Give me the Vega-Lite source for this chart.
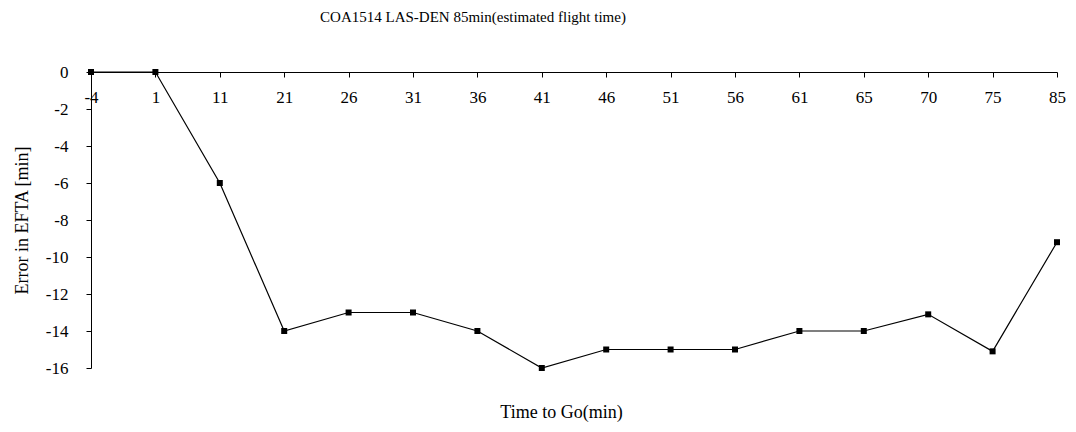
{
  "$schema": "https://vega.github.io/schema/vega-lite/v6.json",
  "width": 966,
  "height": 296,
  "autosize": {"type": "none"},
  "padding": {"left": 91, "top": 72, "right": 19, "bottom": 64},
  "background": "white",
  "title": {
    "text": "COA1514 LAS-DEN 85min(estimated flight time)",
    "font": "Liberation Serif",
    "fontSize": 15,
    "fontWeight": "normal",
    "color": "black",
    "anchor": "middle",
    "frame": "group",
    "dx": -101,
    "offset": 38
  },
  "config": {
    "view": {"stroke": null},
    "axis": {
      "labelFont": "Liberation Serif",
      "titleFont": "Liberation Serif",
      "labelColor": "black",
      "titleColor": "black",
      "domainColor": "black",
      "tickColor": "black",
      "grid": false
    }
  },
  "data": {
    "values": [
      {"t": "-4", "err": 0},
      {"t": "1", "err": 0},
      {"t": "11", "err": -6},
      {"t": "21", "err": -14},
      {"t": "26", "err": -13},
      {"t": "31", "err": -13},
      {"t": "36", "err": -14},
      {"t": "41", "err": -16},
      {"t": "46", "err": -15},
      {"t": "51", "err": -15},
      {"t": "56", "err": -15},
      {"t": "61", "err": -14},
      {"t": "65", "err": -14},
      {"t": "70", "err": -13.1},
      {"t": "75", "err": -15.1},
      {"t": "85", "err": -9.2}
    ]
  },
  "encoding": {
    "x": {
      "field": "t",
      "type": "ordinal",
      "sort": null,
      "scale": {"type": "point", "padding": 0},
      "axis": {
        "orient": "bottom",
        "offset": -296,
        "labelAngle": 0,
        "labelFontSize": 17,
        "labelPadding": 12,
        "tickSize": 5,
        "title": "Time to Go(min)",
        "titleFontSize": 18,
        "titleFontWeight": "normal",
        "titleBaseline": "middle",
        "titleX": 470,
        "titleY": 340
      }
    },
    "y": {
      "field": "err",
      "type": "quantitative",
      "scale": {"domain": [-16, 0], "nice": false, "zero": false},
      "axis": {
        "values": [0, -2, -4, -6, -8, -10, -12, -14, -16],
        "labelExpr": "'' + datum.value",
        "labelFontSize": 17,
        "labelPadding": 18,
        "tickSize": 5,
        "title": "Error in EFTA [min]",
        "titleFontSize": 18,
        "titleFontWeight": "normal",
        "titlePadding": 14
      }
    }
  },
  "layer": [
    {"mark": {"type": "line", "color": "black", "strokeWidth": 1.2}},
    {"mark": {"type": "point", "shape": "square", "filled": true, "color": "black", "opacity": 1, "size": 36}}
  ]
}
